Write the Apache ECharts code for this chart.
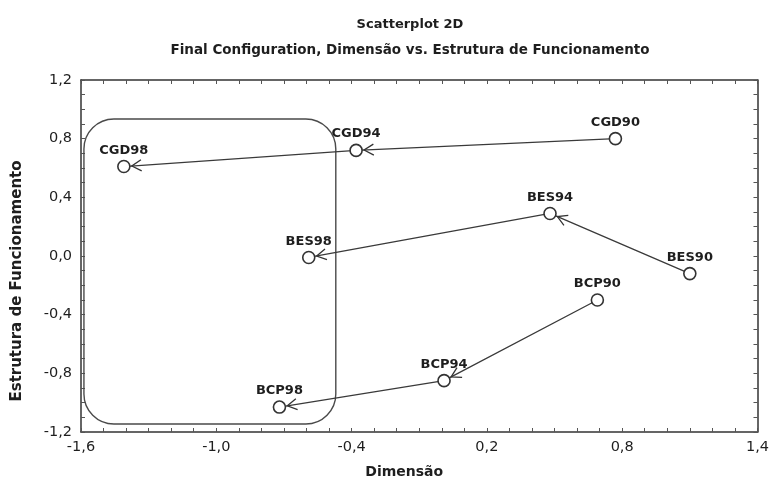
<!DOCTYPE html>
<html>
<head>
<meta charset="utf-8">
<script src="https://cdn.jsdelivr.net/npm/echarts@6/dist/echarts.min.js"></script>
<style>html,body{margin:0;padding:0;background:#fff}#chart{width:772px;height:487px}</style>
</head>
<body>
<div id="chart"></div>
<script>
// ---- data ----
const cgdNames = ['CGD90', 'CGD94', 'CGD98'];
const cgdX = [0.77, -0.38, -1.41];
const cgdY = [0.80, 0.72, 0.61];

const besNames = ['BES90', 'BES94', 'BES98'];
const besX = [1.10, 0.48, -0.59];
const besY = [-0.12, 0.29, -0.01];

const bcpNames = ['BCP90', 'BCP94', 'BCP98'];
const bcpX = [0.69, 0.01, -0.72];
const bcpY = [-0.30, -0.85, -1.03];

// highlighted region (x1, y1, x2, y2) in data units
const highlightBox = [-1.587, 0.934, -0.47, -1.145];

const xTickLabels = [-1.6, -1.0, -0.4, 0.2, 0.8, 1.4];
const yTickLabels = [-1.2, -0.8, -0.4, 0.0, 0.4, 0.8, 1.2];

const titleText = 'Scatterplot 2D';
const subtitleText = 'Final Configuration, Dimensão vs. Estrutura de Funcionamento';
const xName = 'Dimensão';
const yName = 'Estrutura de Funcionamento';

// ---- build ----
const FONT = 'DejaVu Sans';
const groupsDef = [
  [cgdNames, cgdX, cgdY],
  [besNames, besX, besY],
  [bcpNames, bcpX, bcpY]
];
const fmt = v => (Math.round(v * 10) / 10).toFixed(1).replace('.', ',');
function isIn(list, v) { return list.some(t => Math.abs(t - v) < 1e-6); }

const lineSeries = groupsDef.map(([names, xs, ys]) => ({
  type: 'line',
  data: xs.map((x, i) => ({ value: [x, ys[i]], name: names[i] })),
  symbol: 'circle',
  symbolSize: 12,
  lineStyle: { color: '#3a3a3a', width: 1.3 },
  itemStyle: { color: '#fff', borderColor: '#333', borderWidth: 1.6 },
  label: {
    show: true, position: 'top', distance: 3,
    formatter: p => p.name,
    fontFamily: FONT, fontSize: 13, fontWeight: 'bold', color: '#1e1e1e'
  },
  z: 3,
  animation: false
}));

const segments = [];
groupsDef.forEach(([names, xs, ys]) => {
  for (let i = 0; i < xs.length - 1; i++) segments.push([xs[i], ys[i], xs[i + 1], ys[i + 1]]);
});

const arrowSeries = {
  type: 'custom',
  data: segments,
  renderItem: (params, api) => {
    const p1 = api.coord([api.value(0), api.value(1)]);
    const p2 = api.coord([api.value(2), api.value(3)]);
    let dx = p1[0] - p2[0], dy = p1[1] - p2[1];
    const len = Math.sqrt(dx * dx + dy * dy);
    dx /= len; dy /= len;
    const tip = [p2[0] + dx * 8, p2[1] + dy * 8];
    const a = Math.PI / 6, L = 11;
    const rot = (ang) => [dx * Math.cos(ang) - dy * Math.sin(ang), dx * Math.sin(ang) + dy * Math.cos(ang)];
    const r1 = rot(a), r2 = rot(-a);
    return {
      type: 'polyline',
      shape: { points: [[tip[0] + r1[0] * L, tip[1] + r1[1] * L], tip, [tip[0] + r2[0] * L, tip[1] + r2[1] * L]] },
      style: { stroke: '#333', lineWidth: 1.3, fill: null }
    };
  },
  z: 4,
  silent: true,
  animation: false
};

const boxSeries = {
  type: 'custom',
  data: [highlightBox],
  renderItem: (params, api) => {
    const a = api.coord([api.value(0), api.value(1)]);
    const b = api.coord([api.value(2), api.value(3)]);
    return {
      type: 'rect',
      shape: { x: a[0], y: a[1], width: b[0] - a[0], height: b[1] - a[1], r: 30 },
      style: { stroke: '#4a4a4a', lineWidth: 1.4, fill: null }
    };
  },
  z: 2,
  silent: true,
  animation: false
};

const tickLabelStyle = { fontFamily: FONT, fontSize: 14.5, color: '#1e1e1e' };
const axisLineStyle = { show: true, onZero: false, lineStyle: { color: '#333', width: 1.5 } };
const tickStyle = { show: true, inside: true, length: 4, lineStyle: { color: '#555', width: 1 } };

const option = {
  backgroundColor: '#fff',
  animation: false,
  title: [
    { text: titleText, left: 405, top: 13, textAlign: 'center',
      textStyle: { fontFamily: FONT, fontSize: 13, fontWeight: 'bold', color: '#1e1e1e' } },
    { text: subtitleText, left: 405, top: 38, textAlign: 'center',
      textStyle: { fontFamily: FONT, fontSize: 13.5, fontWeight: 'bold', color: '#1e1e1e' } }
  ],
  grid: { left: 81, right: 14, top: 80, bottom: 55, containLabel: false },
  xAxis: [
    {
      type: 'value', min: -1.6, max: 1.4, interval: 0.1, position: 'bottom',
      name: xName, nameLocation: 'middle', nameGap: 33,
      nameTextStyle: { fontFamily: FONT, fontSize: 14, fontWeight: 'bold', color: '#1e1e1e', padding: [0, 30, 0, 0] },
      axisLine: axisLineStyle, axisTick: tickStyle, splitLine: { show: false },
      axisLabel: Object.assign({ margin: 8, formatter: v => isIn(xTickLabels, v) ? fmt(v) : '' }, tickLabelStyle)
    },
    {
      type: 'value', min: -1.6, max: 1.4, interval: 0.1, position: 'top',
      axisLine: axisLineStyle, axisTick: tickStyle, splitLine: { show: false }, axisLabel: { show: false }
    }
  ],
  yAxis: [
    {
      type: 'value', min: -1.2, max: 1.2, interval: 0.1, position: 'left',
      name: yName, nameLocation: 'middle', nameGap: 56,
      nameTextStyle: { fontFamily: FONT, fontSize: 15, fontWeight: 'bold', color: '#1e1e1e', padding: [0, 50, 0, 0] },
      axisLine: axisLineStyle, axisTick: tickStyle, splitLine: { show: false },
      axisLabel: Object.assign({ margin: 9, formatter: v => isIn(yTickLabels, v) ? fmt(v) : '' }, tickLabelStyle)
    },
    {
      type: 'value', min: -1.2, max: 1.2, interval: 0.1, position: 'right',
      axisLine: axisLineStyle, axisTick: tickStyle, splitLine: { show: false }, axisLabel: { show: false }
    }
  ],
  series: [boxSeries].concat(lineSeries, [arrowSeries])
};

const chart = echarts.init(document.getElementById('chart'), null, { renderer: 'canvas' });
chart.setOption(option);
</script>
</body>
</html>
